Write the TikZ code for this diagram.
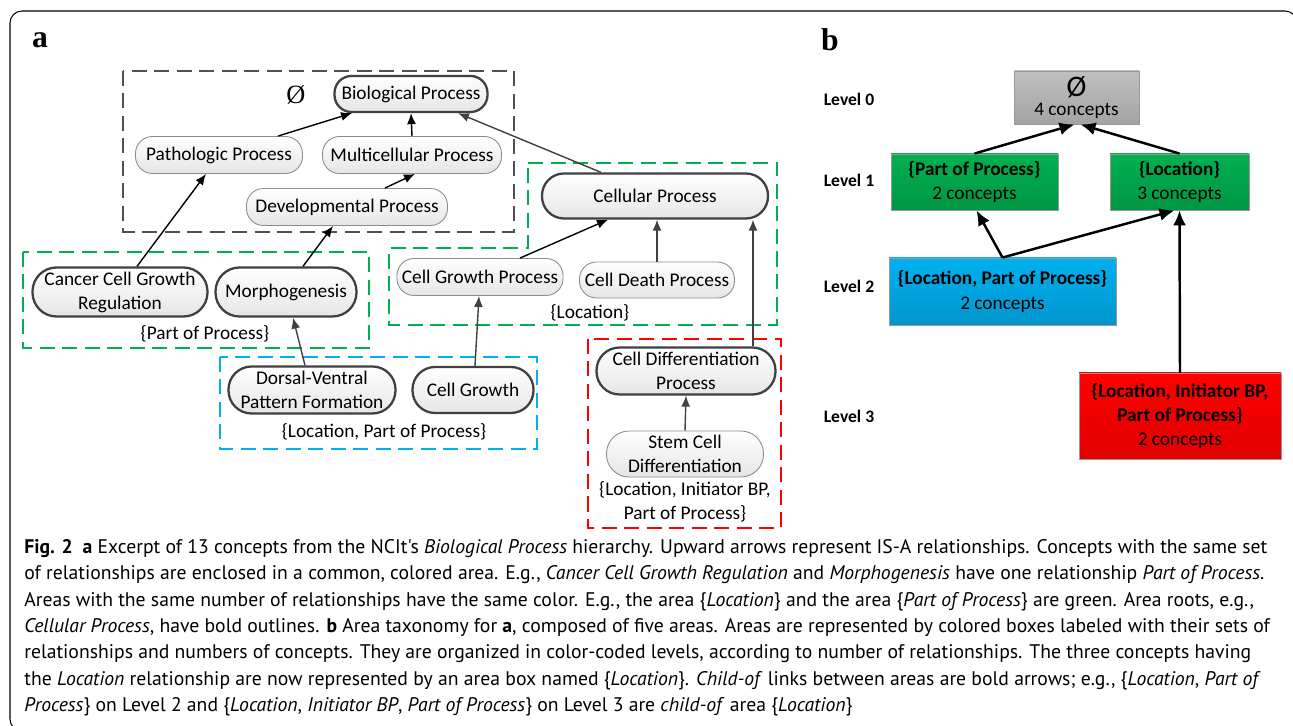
\documentclass[tikz,border=0pt]{standalone}
\usepackage{fontspec}
\setmainfont{Carlito}
\newfontfamily\capfont{PT Sans}
\newfontfamily\serfont{Liberation Serif}
\usetikzlibrary{arrows.meta,calc}

\definecolor{areagreen}{RGB}{0,176,80}
\definecolor{areablue}{RGB}{0,176,240}
\definecolor{areared}{RGB}{255,0,0}
\definecolor{areagray}{RGB}{80,80,80}
\definecolor{edgegray}{RGB}{64,64,64}
\definecolor{boxgray}{RGB}{192,192,192}

\begin{document}
\begin{tikzpicture}[x=0.2mm,y=-0.2mm,
    font=\fontsize{11}{13.7}\selectfont,
    concept/.style={draw=black!45,line width=0.5pt,rounded corners=3.4mm,top color=white,bottom color=black!10,inner sep=0pt,align=center},
    root/.style={concept,draw=edgegray,line width=1.3pt},
    area/.style={line width=0.8pt,dash pattern=on 3mm off 1.5mm},
    isa/.style={-{Latex[length=2.2mm,width=1.8mm]},line width=0.8pt},
    greyisa/.style={isa,draw=edgegray},
    levelbox/.style={draw=black!40,line width=0.5pt,inner sep=0pt,align=center},
    childof/.style={-{Latex[length=3mm,width=2.6mm]},line width=1.4pt}
]
        \useasboundingbox (0,0) rectangle (1293,726);
        
        %Frame
        \begin{scope}
        \clip (0,0) rectangle (1293,726);
        \draw[line width=0.6pt,rounded corners=2.4mm] (10,11) rectangle (1297,731);
        \end{scope}
        
        \node[font=\serfont\bfseries\fontsize{18}{18}\selectfont] (labela) at (40,40) {a};
        \node[font=\serfont\bfseries\fontsize{18}{18}\selectfont] (labelb) at (830,40) {b};
        
        %Areas
        \draw[area,draw=areagray] (123,71) rectangle (514,232);
        \draw[area,draw=areagreen] (528,163) -- (777,163) -- (777,325) -- (389,325) -- (389,248) -- (528,248) -- cycle;
        \draw[area,draw=areagreen] (23,252) rectangle (369,348);
        \draw[area,draw=areablue] (220,357) rectangle (537,449);
        \draw[area,draw=areared] (588,339) rectangle (781,528);
        
        %Concepts
        %Top area
        \node[root,minimum width=30.6mm,minimum height=7.2mm] (bio) at (411,94) {Biological Process};
        \node[concept,minimum width=33.4mm,minimum height=7.4mm] (patho) at (219,155) {Pathologic Process};
        \node[concept,minimum width=35.8mm,minimum height=7.4mm] (multi) at (412,155) {Multicellular Process};
        \node[concept,minimum width=40.2mm,minimum height=7.4mm] (devel) at (347,207) {Developmental Process};
        
        %Location area
        \node[root,rounded corners=4.4mm,minimum width=45.2mm,minimum height=9mm] (cellular) at (655,196) {Cellular Process};
        \node[concept,minimum width=33.2mm,minimum height=7.4mm] (cgp) at (480,277) {Cell Growth Process};
        \node[concept,minimum width=31mm,minimum height=7.2mm] (cdp) at (657,280) {Cell Death Process};
        
        %Part of Process area
        \node[root,rounded corners=4.8mm,minimum width=35mm,minimum height=9.8mm] (cancer) at (120,292) {Cancer Cell Growth\\Regulation};
        \node[root,rounded corners=4.8mm,minimum width=28.2mm,minimum height=9.8mm] (morpho) at (286,292) {Morphogenesis};
        
        %Location, Part of Process area
        \node[root,rounded corners=4.6mm,minimum width=33.4mm,minimum height=9.4mm] (dorsal) at (312,390) {Dorsal-Ventral\\Pattern Formation};
        \node[root,rounded corners=4.5mm,minimum width=24.2mm,minimum height=9.2mm] (cgrowth) at (473,390) {Cell Growth};
        
        %Location, Initiator BP, Part of Process area
        \node[root,rounded corners=4.6mm,minimum width=35.8mm,minimum height=9.4mm] (celldiff) at (686,371) {Cell Differentiation\\Process};
        \node[concept,rounded corners=4.5mm,minimum width=31.4mm,minimum height=9.2mm] (stem) at (685,454) {Stem Cell\\Differentiation};
        
        %Area labels
        \node[font=\serfont\fontsize{15}{15}\selectfont] (emptyset) at (296,95) {Ø};
        \node (locname) at (590,313) {\{Location\}};
        \node (popname) at (205,334) {\{Part of Process\}};
        \node (lppname) at (384,432) {\{Location, Part of Process\}};
        \node[align=center] (libname) at (685,502) {\{Location, Initiator BP,\\Part of Process\}};
        
        %Edges
        \draw[isa] ($(patho.north)+(59,0)$) -- ($(bio.south)+(-59,0)$);
        \draw[isa] (multi.north) -- (bio.south);
        \draw[isa] ($(devel.north)+(38,0)$) -- ($(multi.south)+(3,0)$);
        \draw[greyisa] ($(cellular.north)+(-54,0)$) -- ($(bio.south)+(47,0)$);
        
        \draw[isa] ($(cgp.north)+(40,0)$) -- ($(cellular.south)+(-47,0)$);
        \draw[greyisa] (cdp.north) -- ($(cellular.south)+(2,0)$);
        \draw[greyisa] ($(celldiff.north)+(67,0)$) -- ($(cellular.south)+(98,0)$);
        
        \draw[isa] ($(cancer.north)+(17,0)$) -- ($(patho.south)+(-13,0)$);
        \draw[isa] ($(morpho.north)+(17,0)$) -- ($(devel.south)+(-14,0)$);
        
        \draw[greyisa] ($(dorsal.north)+(-7,0)$) -- ($(morpho.south)+(7,0)$);
        \draw[greyisa] ($(cgrowth.north)+(2,0)$) -- ($(cgp.south)+(-1,0)$);
        \draw[greyisa] (stem.north) -- (celldiff.south);
        
        %Levels
        \node[font=\bfseries] (lvl0) at (849,99) {Level 0};
        \node[font=\bfseries] (lvl1) at (849,180) {Level 1};
        \node[font=\bfseries] (lvl2) at (849,286) {Level 2};
        \node[font=\bfseries] (lvl3) at (849,416) {Level 3};
        
        %Area boxes
        \node[levelbox,top color=boxgray,bottom color=boxgray!85!black,minimum width=25mm,minimum height=10.6mm] (empty) at (1076.5,97.5) {{\fontsize{17}{17}\selectfont Ø}\\[-1mm]4 concepts};
        \node[levelbox,top color=areagreen,bottom color=areagreen!85!black,minimum width=33.4mm,minimum height=11.2mm] (pop) at (974.5,182) {\textbf{\{Part of Process\}}\\2 concepts};
        \node[levelbox,top color=areagreen,bottom color=areagreen!85!black,minimum width=27.8mm,minimum height=11.2mm] (loc) at (1179.5,182) {\textbf{\{Location\}}\\3 concepts};
        \node[levelbox,top color=areablue,bottom color=areablue!85!black,minimum width=45.4mm,minimum height=13.4mm] (lpp) at (1002.5,291.5) {\textbf{\{Location, Part of Process\}}\\2 concepts};
        \node[levelbox,top color=areared,bottom color=areared!88!black,minimum width=40.4mm,minimum height=17.2mm] (lib) at (1180,416) {\textbf{\{Location, Initiator BP,}\\\textbf{Part of Process\}}\\2 concepts};
        
        %Child-of edges
        \draw[childof] (pop.north) -- ($(empty.south)+(-2,0)$);
        \draw[childof] (loc.north) -- ($(empty.south)+(4,0)$);
        \draw[childof] (lpp.north) -- ($(pop.south)+(2,0)$);
        \draw[childof] (lpp.north) -- ($(loc.south)+(-5,0)$);
        \draw[childof] (lib.north) -- (loc.south);
        
        %Caption
        \node[font=\capfont\fontsize{11.2}{15}\selectfont,align=left,anchor=north west,inner sep=0pt] (caption) at (24,539) {%
        \textbf{Fig. 2}\enspace\textbf{a} Excerpt of 13 concepts from the NCIt's \textit{Biological Process} hierarchy. Upward arrows represent IS-A relationships. Concepts with the same set\\
        of relationships are enclosed in a common, colored area. E.g., \textit{Cancer Cell Growth Regulation} and \textit{Morphogenesis} have one relationship \textit{Part of Process}.\\
        Areas with the same number of relationships have the same color. E.g., the area \{\textit{Location}\} and the area \{\textit{Part of Process}\} are green. Area roots, e.g.,\\
        \textit{Cellular Process}, have bold outlines. \textbf{b} Area taxonomy for \textbf{a}, composed of five areas. Areas are represented by colored boxes labeled with their sets of\\
        relationships and numbers of concepts. They are organized in color-coded levels, according to number of relationships. The three concepts having\\
        the \textit{Location} relationship are now represented by an area box named \{\textit{Location}\}. \textit{Child-of} links between areas are bold arrows; e.g., \{\textit{Location}, \textit{Part of}\\
        \textit{Process}\} on Level 2 and \{\textit{Location}, \textit{Initiator BP}, \textit{Part of Process}\} on Level 3 are \textit{child-of} area \{\textit{Location}\}};
        
\end{tikzpicture}
\end{document}
